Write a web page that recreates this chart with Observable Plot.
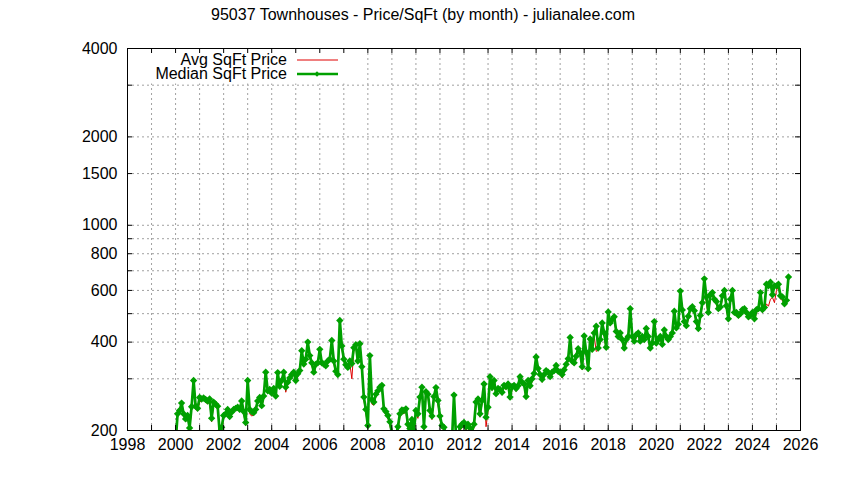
<!DOCTYPE html>
<html><head><meta charset="utf-8">
<script src="https://cdn.jsdelivr.net/npm/d3@7"></script>
<script src="https://cdn.jsdelivr.net/npm/@observablehq/plot@0.6"></script>
<style>html,body{margin:0;padding:0;background:#fff} svg{display:block}</style>
</head><body><div id="chart"></div>
<script>
const titleText = "95037 Townhouses - Price/SqFt (by month) - julianalee.com";
const seriesNames = ["Avg SqFt Price", "Median SqFt Price"];
const startYear = 2000; // first month: Jan 2000, one value per month
const medianPrice = [
  180,228,234,248,228,219,225,204,241,296,242,238,
  259,256,258,255,252,256,220,250,246,242,198,205,
  225,228,236,223,231,236,238,240,236,252,232,213,
  296,236,232,230,236,252,259,243,262,316,273,276,
  268,278,262,315,283,296,316,281,292,302,310,316,
  296,312,320,374,337,350,400,360,340,316,336,340,
  378,340,337,332,345,350,405,345,318,310,474,388,
  350,335,328,345,338,383,392,345,395,330,260,236,
  208,360,255,250,266,273,281,285,237,232,225,214,
  196,188,190,206,228,235,234,237,210,203,218,200,
  234,228,260,281,206,271,266,234,224,261,280,253,
  224,208,205,192,188,190,185,264,192,188,206,210,
  213,206,210,204,198,210,250,256,228,253,288,222,
  240,305,280,296,267,278,276,270,285,282,288,260,
  282,285,278,284,305,292,288,261,296,284,300,313,
  356,325,310,299,310,320,316,305,316,320,333,318,
  316,310,322,336,351,415,345,340,358,380,368,330,
  420,370,325,410,378,430,453,382,408,465,430,384,
  507,465,478,488,435,418,430,408,382,408,418,520,
  418,403,424,430,403,418,408,445,418,382,397,470,
  397,408,418,393,440,418,408,418,430,510,447,460,
  597,515,470,455,490,520,528,512,470,445,493,545,
  657,570,505,580,590,560,550,520,527,575,600,532,
  480,560,600,505,505,493,500,516,520,505,488,493,
  505,480,516,520,590,516,525,630,622,640,580,622,
  622,630,575,570,540,555,667
];
const avgPrice = [
  178,226,232,244,225,214,222,200,236,290,236,234,
  250,252,255,250,246,250,214,246,240,238,194,200,
  220,226,230,220,228,232,236,238,232,246,228,208,
  290,228,224,226,232,248,255,240,258,310,268,272,
  262,274,256,310,280,290,312,270,288,298,305,312,
  292,306,316,366,330,345,392,352,334,310,330,336,
  370,334,330,328,340,344,398,338,312,304,462,380,
  344,330,322,338,300,376,386,340,388,322,254,230,
  204,352,246,244,260,268,276,280,232,226,220,208,
  192,184,186,200,222,230,228,232,204,198,212,196,
  228,220,254,274,200,264,260,228,218,256,272,246,
  218,204,200,188,184,186,180,258,188,184,200,204,
  208,200,205,198,194,205,244,250,222,246,282,206,
  232,298,274,290,262,272,270,264,280,276,282,254,
  276,280,272,278,298,286,282,256,290,278,294,306,
  348,318,304,292,304,314,310,300,310,314,326,312,
  310,302,316,330,344,406,338,334,350,372,360,322,
  410,362,318,402,370,420,372,375,398,455,420,376,
  496,455,468,478,426,410,420,400,374,400,410,508,
  410,395,415,420,395,410,400,436,410,374,390,460,
  390,400,410,385,430,410,400,410,420,498,438,450,
  585,505,460,446,480,510,518,502,460,436,482,534,
  645,540,495,568,578,548,538,510,515,562,588,520,
  470,548,588,495,495,483,490,505,510,495,478,483,
  495,470,505,510,578,505,515,540,530,560,568,545,
  600,618,560,555,530,545,655
];
const yTickLabels = [200, 400, 600, 800, 1000, 1500, 2000, 4000];
const yGridValues = [300, 400, 500, 600, 700, 800, 900, 1000, 1500, 2000, 3000];
const yAllTicks = [200, 300, 400, 500, 600, 700, 800, 900, 1000, 1500, 2000, 3000, 4000];
const xTickLabels = [1998, 2000, 2002, 2004, 2006, 2008, 2010, 2012, 2014, 2016, 2018, 2020, 2022, 2024, 2026];
const xYears = [1998,1999,2000,2001,2002,2003,2004,2005,2006,2007,2008,2009,2010,2011,2012,2013,2014,2015,2016,2017,2018,2019,2020,2021,2022,2023,2024,2025,2026];
const xGridYears = xYears.slice(1, -1);

const data = medianPrice.map((m, i) => ({t: startYear + i / 12, median: m, avg: avgPrice[i]}));

const W = 844, H = 480, ML = 127, MR = 44, MT = 48, MB = 50;
const PW = W - ML - MR, PH = H - MT - MB;
const RED = "#e00000", GREEN = "#00a000", GRID = "#a0a0a0";

const svg = Plot.plot({
  width: W, height: H,
  marginLeft: ML, marginRight: MR, marginTop: MT, marginBottom: MB,
  style: {fontFamily: "'Liberation Sans', Arial, sans-serif", fontSize: "16px", color: "#000", background: "#fff"},
  x: {domain: [1998, 2026]},
  y: {type: "log", domain: [200, 4000]},
  marks: [
    Plot.ruleY(yGridValues, {stroke: GRID, strokeWidth: 1, strokeDasharray: "2,3"}),
    Plot.ruleX(xGridYears, {stroke: GRID, strokeWidth: 1, strokeDasharray: "2,3"}),
    Plot.frame({fill: "white", stroke: "none", insetRight: PW - 219, insetBottom: PH - 35}),
    Plot.line(data, {x: "t", y: "avg", stroke: RED, strokeWidth: 1, clip: true}),
    Plot.line(data, {x: "t", y: "median", stroke: GREEN, strokeWidth: 2.7, clip: true}),
    Plot.dot(data, {x: "t", y: "median", fill: GREEN, stroke: "none", symbol: "diamond2", r: 3.3, clip: true}),
    Plot.tickY(yAllTicks, {insetRight: PW - 5, stroke: "#000"}),
    Plot.tickY(yAllTicks, {insetLeft: PW - 5, stroke: "#000"}),
    Plot.tickX(xYears, {insetTop: PH - 5, stroke: "#000"}),
    Plot.tickX(xYears, {insetBottom: PH - 5, stroke: "#000"}),
    Plot.frame({stroke: "#000", strokeWidth: 1}),
    Plot.axisY(yTickLabels, {tickSize: 0, tickPadding: 10, tickFormat: d => String(d), label: null}),
    Plot.axisX(xTickLabels, {tickSize: 0, tickPadding: 8, tickFormat: d => String(d), label: null}),
    Plot.text([titleText], {frameAnchor: "top", dy: -40, dx: -41, fontSize: 16})
  ]
});

// legend (key) in the upper-left corner of the plot
const key = d3.select(svg).append("g");
const rows = [
  {name: seriesNames[0], color: RED, width: 1, dot: false, y: 59},
  {name: seriesNames[1], color: GREEN, width: 2.7, dot: true, y: 73}
];
rows.forEach(r => {
  key.append("text").attr("x", 287).attr("y", r.y).attr("text-anchor", "end")
    .attr("dominant-baseline", "central").attr("font-size", 16).attr("fill", "#000").text(r.name);
  key.append("line").attr("x1", 297).attr("x2", 338).attr("y1", r.y + 1).attr("y2", r.y + 1)
    .attr("stroke", r.color).attr("stroke-width", r.width);
  if (r.dot) key.append("path").attr("d", d3.symbol(d3.symbolDiamond2, 18)()).attr("transform", `translate(317,${r.y + 1})`).attr("fill", r.color);
});

document.getElementById("chart").appendChild(svg);
</script>
</body></html>
